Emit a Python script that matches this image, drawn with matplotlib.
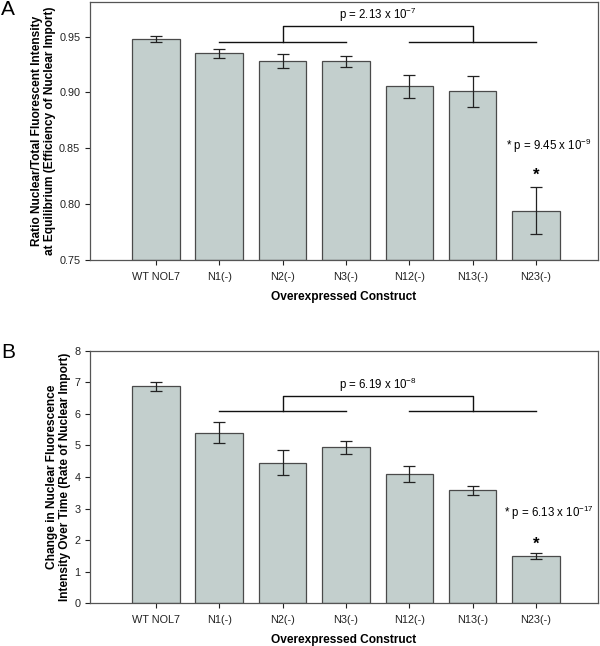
import matplotlib
matplotlib.use("Agg")
import matplotlib.pyplot as plt
import numpy as np

plt.rcParams['font.family'] = ['Liberation Sans', 'DejaVu Sans']
plt.rcParams['mathtext.fontset'] = 'custom'
plt.rcParams['mathtext.rm'] = 'Liberation Sans'
plt.rcParams['mathtext.default'] = 'regular'

constructs = ["WT NOL7", "N1(-)", "N2(-)", "N3(-)", "N12(-)", "N13(-)", "N23(-)"]

# panel A: efficiency of nuclear import
eff = [0.948, 0.935, 0.928, 0.928, 0.9055, 0.901, 0.794]
eff_err = [0.003, 0.004, 0.0065, 0.005, 0.0103, 0.014, 0.021]

# panel B: rate of nuclear import
rate = [6.87, 5.40, 4.46, 4.94, 4.10, 3.58, 1.49]
rate_err = [0.14, 0.33, 0.41, 0.21, 0.26, 0.145, 0.10]

bar_col = "#c3cfcd"
edge_col = "#4a4a4a"

fig = plt.figure(figsize=(6, 6.46), dpi=100)
axA = fig.add_axes([0.15, 0.5975, 0.8467, 1 - 2 / 646 - 0.5975])
axB = fig.add_axes([0.15, 0.066, 0.8467, 0.457 - 0.066])

x = np.arange(len(constructs))


def draw(ax, vals, errs, ylim, yticks, fmt, ylabel, bracket, ptext, ptext_y,
         star_text, star_xy, star_y):
    ax.bar(x, np.array(vals) - ylim[0], bottom=ylim[0], width=0.75,
           color=bar_col, edgecolor=edge_col, linewidth=0.9, zorder=2)
    ax.errorbar(x, vals, yerr=errs, fmt="none", ecolor="#222222",
                elinewidth=0.9, capsize=4.5, capthick=0.9, zorder=3)
    ax.set_xlim(-1.04, 6.98)
    ax.set_ylim(*ylim)
    ax.set_yticks(yticks)
    ax.set_yticklabels([fmt.format(v) for v in yticks])
    ax.set_xticks(x)
    ax.set_xticklabels(constructs)
    ax.tick_params(axis="both", labelsize=7.8, colors="#222222",
                   length=3.5, width=0.8, direction="out")
    ax.tick_params(axis="x", pad=5)
    for sp in ax.spines.values():
        sp.set_color("#555555")
        sp.set_linewidth(0.9)
    ax.set_ylabel(ylabel, fontsize=8.6, fontweight="bold", labelpad=2,
                  linespacing=1.1)
    ax.set_xlabel("Overexpressed Construct", fontsize=8.6,
                  fontweight="bold", labelpad=6.5)
    lo, hi = bracket
    kw = dict(color="#111111", lw=1.0, zorder=4)
    ax.plot([1, 3], [lo, lo], **kw)
    ax.plot([4, 6], [lo, lo], **kw)
    ax.plot([2, 2, 5, 5], [lo, hi, hi, lo], **kw)
    ax.text(3.5, ptext_y, ptext, ha="center", va="bottom", fontsize=8.3)
    ax.text(star_xy[0], star_xy[1], star_text, ha="center", va="center",
            fontsize=8.3)
    ax.text(6, star_y, "*", ha="center", va="center", fontsize=12,
            fontweight="bold")


draw(axA, eff, eff_err, (0.75, 0.981), [0.75, 0.80, 0.85, 0.90, 0.95],
     "{:.2f}",
     "Ratio Nuclear/Total Fluorescent Intensity\nat Equilibrium (Efficiency of Nuclear Import)",
     (0.9453, 0.9592), r"p = 2.13 x 10$^{-7}$", 0.9612,
     r"* p = 9.45 x 10$^{-9}$", (6.2, 0.852), 0.826)

draw(axB, rate, rate_err, (0, 8), list(range(0, 9)), "{:d}",
     "Change in Nuclear Fluorescence\nIntensity Over Time (Rate of Nuclear Import)",
     (6.09, 6.57), r"p = 6.19 x 10$^{-8}$", 6.62,
     r"* p = 6.13 x 10$^{-17}$", (6.2, 2.88), 1.86)

fig.text(0.002, 0.985, "A", fontsize=15, va="center", ha="left")
fig.text(0.002, 1 - 352 / 646, "B", fontsize=15, va="center", ha="left")

fig.savefig("out.png", dpi=100)
